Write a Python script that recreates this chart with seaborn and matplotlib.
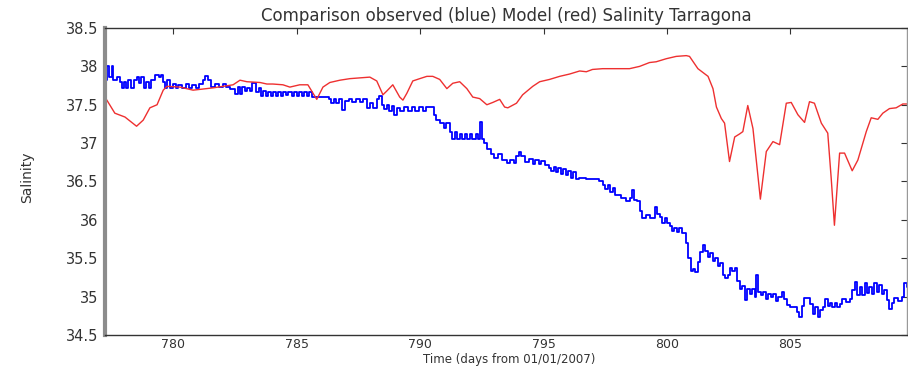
import matplotlib
matplotlib.use("Agg")
import matplotlib.pyplot as plt
import pandas as pd
import seaborn as sns

# Observed salinity at the Tarragona station (days since 01/01/2007)
obs_day = [
    777.23, 777.30, 777.40, 777.50, 777.56, 777.70, 777.82, 777.92, 778.00, 778.08,
    778.18, 778.30, 778.40, 778.52, 778.62, 778.70, 778.80, 778.90, 779.00, 779.10,
    779.26, 779.40, 779.50, 779.60, 779.68, 779.76, 779.86, 780.00, 780.10, 780.20,
    780.35, 780.50, 780.62, 780.75, 780.90, 781.05, 781.20, 781.30, 781.42, 781.52,
    781.70, 781.85, 782.00, 782.15, 782.30, 782.50, 782.60, 782.70, 782.78, 782.90,
    783.00, 783.10, 783.20, 783.35, 783.45, 783.55, 783.65, 783.75, 783.85, 783.95,
    784.05, 784.15, 784.25, 784.35, 784.45, 784.55, 784.65, 784.80, 784.90, 785.00,
    785.10, 785.20, 785.30, 785.40, 785.50, 785.60, 785.75, 785.95, 786.30, 786.40,
    786.50, 786.60, 786.70, 786.85, 786.95, 787.10, 787.25, 787.40, 787.55, 787.70,
    787.85, 787.95, 788.10, 788.25, 788.35, 788.45, 788.55, 788.65, 788.75, 788.85,
    788.95, 789.05, 789.20, 789.35, 789.50, 789.65, 789.80, 789.95, 790.10, 790.25,
    790.40, 790.55, 790.65, 790.80, 790.95, 791.05, 791.20, 791.30, 791.40, 791.50,
    791.60, 791.70, 791.80, 791.90, 792.00, 792.10, 792.25, 792.35, 792.42, 792.50,
    792.60, 792.70, 792.85, 793.00, 793.15, 793.30, 793.50, 793.65, 793.80, 793.90,
    794.00, 794.10, 794.25, 794.40, 794.55, 794.65, 794.80, 794.90, 795.05, 795.20,
    795.30, 795.40, 795.50, 795.60, 795.70, 795.80, 795.90, 796.00, 796.10, 796.20,
    796.30, 796.45, 796.70, 797.00, 797.25, 797.40, 797.50, 797.60, 797.70, 797.80,
    797.90, 798.05, 798.15, 798.35, 798.50, 798.58, 798.68, 798.80, 798.90, 799.00,
    799.15, 799.30, 799.50, 799.58, 799.70, 799.80, 799.90, 800.00, 800.10, 800.20,
    800.30, 800.40, 800.50, 800.60, 800.75, 800.85, 800.95, 801.05, 801.15, 801.25,
    801.35, 801.45, 801.55, 801.65, 801.75, 801.85, 801.95, 802.05, 802.15, 802.25,
    802.35, 802.45, 802.55, 802.65, 802.75, 802.85, 802.95, 803.05, 803.15, 803.25,
    803.35, 803.45, 803.55, 803.62, 803.70, 803.80, 803.90, 804.00, 804.10, 804.20,
    804.30, 804.40, 804.50, 804.65, 804.75, 804.85, 805.00, 805.15, 805.25, 805.35,
    805.45, 805.55, 805.70, 805.80, 805.90, 806.00, 806.10, 806.20, 806.30, 806.40,
    806.50, 806.60, 806.70, 806.80, 806.90, 807.00, 807.10, 807.25, 807.40, 807.50,
    807.60, 807.70, 807.80, 807.90, 808.00, 808.10, 808.20, 808.30, 808.40, 808.50,
    808.60, 808.70, 808.80, 808.90, 809.00, 809.10, 809.20, 809.35, 809.50, 809.60,
    809.74,
]
obs_sal = [
    37.82, 38.00, 37.86, 38.00, 37.82, 37.86, 37.80, 37.72, 37.80, 37.72,
    37.82, 37.72, 37.82, 37.86, 37.78, 37.86, 37.72, 37.80, 37.72, 37.82,
    37.89, 37.86, 37.89, 37.80, 37.72, 37.82, 37.72, 37.77, 37.72, 37.76,
    37.72, 37.77, 37.72, 37.76, 37.72, 37.77, 37.82, 37.88, 37.82, 37.73,
    37.77, 37.73, 37.77, 37.73, 37.70, 37.64, 37.73, 37.64, 37.73, 37.68,
    37.72, 37.68, 37.78, 37.66, 37.72, 37.62, 37.68, 37.62, 37.67, 37.62,
    37.67, 37.62, 37.67, 37.62, 37.67, 37.63, 37.66, 37.62, 37.67, 37.62,
    37.66, 37.61, 37.67, 37.62, 37.66, 37.60, 37.60, 37.60, 37.57, 37.52,
    37.58, 37.52, 37.57, 37.43, 37.55, 37.58, 37.54, 37.58, 37.54, 37.58,
    37.46, 37.52, 37.46, 37.57, 37.62, 37.50, 37.45, 37.50, 37.42, 37.48,
    37.37, 37.46, 37.42, 37.47, 37.42, 37.47, 37.42, 37.47, 37.42, 37.47,
    37.47, 37.37, 37.30, 37.26, 37.20, 37.26, 37.15, 37.05, 37.15, 37.05,
    37.12, 37.05, 37.12, 37.05, 37.12, 37.06, 37.12, 37.06, 37.28, 37.06,
    37.00, 36.92, 36.86, 36.80, 36.86, 36.78, 36.74, 36.78, 36.74, 36.83,
    36.88, 36.83, 36.76, 36.79, 36.73, 36.78, 36.73, 36.77, 36.72, 36.68,
    36.64, 36.69, 36.62, 36.67, 36.60, 36.66, 36.58, 36.64, 36.55, 36.62,
    36.53, 36.55, 36.53, 36.53, 36.50, 36.46, 36.40, 36.46, 36.36, 36.42,
    36.33, 36.33, 36.28, 36.24, 36.28, 36.39, 36.26, 36.24, 36.12, 36.03,
    36.06, 36.02, 36.17, 36.08, 36.04, 35.96, 36.02, 35.96, 35.92, 35.86,
    35.90, 35.84, 35.89, 35.83, 35.70, 35.50, 35.33, 35.36, 35.32, 35.45,
    35.58, 35.67, 35.60, 35.52, 35.57, 35.46, 35.50, 35.40, 35.44, 35.28,
    35.24, 35.28, 35.37, 35.33, 35.37, 35.20, 35.10, 35.14, 34.95, 35.10,
    35.04, 35.10, 35.00, 35.28, 35.06, 35.02, 35.06, 34.97, 35.04, 35.00,
    35.04, 34.94, 34.99, 35.06, 34.97, 34.89, 34.86, 34.86, 34.80, 34.73,
    34.88, 34.98, 34.98, 34.90, 34.78, 34.86, 34.74, 34.82, 34.86, 34.97,
    34.88, 34.92, 34.86, 34.92, 34.86, 34.90, 34.97, 34.93, 34.97, 35.08,
    35.19, 35.02, 35.12, 35.02, 35.18, 35.05, 35.12, 35.04, 35.18, 35.06,
    35.15, 35.04, 35.08, 34.96, 34.84, 34.92, 34.98, 34.94, 35.00, 35.18,
    35.12,
]

# Model salinity at the same site
model_day = [
    777.23, 777.63, 778.04, 778.51, 778.78, 779.05, 779.34, 779.59, 779.74, 780.27,
    780.80, 781.61, 782.42, 782.70, 782.98, 783.51, 783.79, 784.03, 784.44, 784.72,
    785.12, 785.45, 785.81, 786.06, 786.34, 786.75, 787.15, 787.55, 787.96, 788.24,
    788.49, 788.65, 788.89, 789.17, 789.30, 789.46, 789.70, 789.98, 790.27, 790.51,
    790.79, 791.08, 791.32, 791.60, 791.89, 792.13, 792.41, 792.70, 792.94, 793.22,
    793.42, 793.55, 793.90, 794.15, 794.56, 794.84, 795.24, 795.65, 796.05, 796.46,
    796.73, 796.98, 797.39, 797.94, 798.48, 798.89, 799.29, 799.56, 799.97, 800.37,
    800.78, 800.91, 801.25, 801.66, 801.86, 802.00, 802.20, 802.33, 802.53, 802.74,
    802.94, 803.07, 803.27, 803.48, 803.78, 804.02, 804.29, 804.56, 804.83, 805.03,
    805.30, 805.57, 805.77, 805.97, 806.25, 806.51, 806.65, 806.78, 806.99, 807.19,
    807.50, 807.73, 808.07, 808.27, 808.54, 808.74, 809.01, 809.28, 809.55, 809.74,
]
model_sal = [
    37.60, 37.39, 37.34, 37.22, 37.30, 37.46, 37.50, 37.69, 37.74, 37.73,
    37.69, 37.72, 37.76, 37.82, 37.80, 37.79, 37.77, 37.77, 37.76, 37.73,
    37.76, 37.76, 37.57, 37.73, 37.79, 37.82, 37.84, 37.85, 37.86, 37.81,
    37.63, 37.68, 37.76, 37.60, 37.56, 37.65, 37.81, 37.84, 37.87, 37.87,
    37.83, 37.71, 37.78, 37.80, 37.71, 37.60, 37.58, 37.50, 37.53, 37.57,
    37.47, 37.46, 37.52, 37.63, 37.74, 37.80, 37.83, 37.87, 37.90, 37.94,
    37.93, 37.96, 37.97, 37.97, 37.97, 38.00, 38.05, 38.06, 38.10, 38.13,
    38.14, 38.13, 37.97, 37.87, 37.71, 37.47, 37.32, 37.26, 36.76, 37.08,
    37.12, 37.15, 37.49, 37.19, 36.27, 36.89, 37.02, 36.98, 37.52, 37.53,
    37.37, 37.27, 37.54, 37.52, 37.26, 37.13, 36.54, 35.93, 36.87, 36.87,
    36.64, 36.78, 37.15, 37.33, 37.31, 37.39, 37.45, 37.46, 37.51, 37.51,
]

title = "Comparison observed (blue) Model (red) Salinity Tarragona"
x_label = "Time (days from 01/01/2007)"
y_label = "Salinity"
x_ticks = [780, 785, 790, 795, 800, 805]
y_ticks = [34.5, 35, 35.5, 36, 36.5, 37, 37.5, 38, 38.5]
y_tick_labels = ["34.5", "35", "35.5", "36", "36.5", "37", "37.5", "38", "38.5"]

sns.set_style("white")
plt.rcParams["font.family"] = ["DejaVu Sans"]

fig = plt.figure(figsize=(9.08, 3.66), dpi=100)
ax = fig.add_axes([0.1156, 0.0847, 0.8833, 0.8388])

obs = pd.DataFrame({"day": obs_day, "salinity": obs_sal})
model = pd.DataFrame({"day": model_day, "salinity": model_sal})

sns.lineplot(data=obs, x="day", y="salinity", ax=ax, color="#0000ff",
             linewidth=1.3, drawstyle="steps-post", estimator=None, sort=False)
sns.lineplot(data=model, x="day", y="salinity", ax=ax, color="#ee3030",
             linewidth=1.0, estimator=None, sort=False)

ax.set_xlim(777.23, 809.72)
ax.set_ylim(34.5, 38.5)
ax.set_xticks(x_ticks)
ax.set_xticklabels([str(t) for t in x_ticks])
ax.set_yticks(y_ticks)
ax.set_yticklabels(y_tick_labels)

ax.tick_params(direction="in", length=4, width=0.8, top=True, right=True,
               labelsize=10.5, colors="#333333")
ax.tick_params(axis="y", pad=5)
ax.tick_params(axis="x", pad=2.5, labelsize=9)

for side in ("top", "bottom", "right"):
    ax.spines[side].set_visible(True)
ax.spines["left"].set_linewidth(3)
ax.spines["left"].set_color("#8c8c8c")
ax.spines["bottom"].set_linewidth(1)
ax.spines["bottom"].set_color("#333333")
ax.spines["top"].set_linewidth(1)
ax.spines["top"].set_color("#333333")
ax.spines["right"].set_linewidth(1)
ax.spines["right"].set_color("#999999")

ax.set_title(title, fontsize=12, color="#333333", pad=5)
ax.set_xlabel(x_label, fontsize=8.5, color="#333333")
ax.xaxis.set_label_coords(0.504, -0.0586)
ax.set_ylabel(y_label, fontsize=10, color="#333333")
ax.yaxis.set_label_coords(-0.088, 0.515)

fig.savefig("out.png", dpi=100)
